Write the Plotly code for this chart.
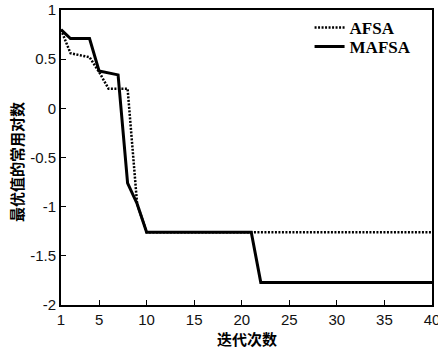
import plotly.graph_objects as go

iterations = list(range(1, 41))
afsa = [0.80, 0.56, 0.54, 0.52, 0.37, 0.20, 0.20, 0.20, -0.97] + [-1.26] * 31
mafsa = [0.80, 0.71, 0.71, 0.71, 0.38, 0.36, 0.34, -0.76, -0.97] + [-1.26] * 12 + [-1.77] * 19
x_ticks = [1, 5, 10, 15, 20, 25, 30, 35, 40]
y_ticks = [1, 0.5, 0, -0.5, -1, -1.5, -2]

fig = go.Figure()
fig.add_trace(go.Scatter(x=iterations, y=afsa, mode="lines", name="<b>AFSA</b>",
                         line=dict(color="black", width=2.5, dash="2px,1.5px"), legend="legend"))
fig.add_trace(go.Scatter(x=iterations, y=mafsa, mode="lines", name="<b>MAFSA</b>",
                         line=dict(color="black", width=3), legend="legend2"))

tick_font = dict(family="Liberation Sans, Arial", size=15, color="#111")
title_font = dict(family="Noto Sans CJK SC", size=15, color="black")
legend_font = dict(family="Liberation Serif, Times New Roman", size=17, color="black")
fig.update_layout(
    width=438, height=350,
    margin=dict(l=61, r=6, t=10, b=45),
    paper_bgcolor="white", plot_bgcolor="white",
    showlegend=True,
    legend=dict(x=0.67, y=0.939, xanchor="left", yanchor="middle", font=legend_font,
                bgcolor="rgba(0,0,0,0)", itemwidth=30),
    legend2=dict(x=0.67, y=0.875, xanchor="left", yanchor="middle", font=legend_font,
                 bgcolor="rgba(0,0,0,0)", itemwidth=30),
    xaxis=dict(range=[1, 40], tickvals=x_ticks, ticktext=[str(v) for v in x_ticks],
               ticks="inside", ticklen=5, tickcolor="black", showgrid=False, zeroline=False,
               showline=True, linecolor="black", linewidth=2, mirror=True,
               tickfont=tick_font, automargin=False, ticklabeloverflow="allow"),
    yaxis=dict(range=[-2, 1], tickvals=y_ticks, ticktext=[str(v) for v in y_ticks],
               ticks="inside", ticklen=5, tickcolor="black", showgrid=False, zeroline=False,
               showline=True, linecolor="black", linewidth=2, mirror=True,
               tickfont=tick_font, automargin=False, ticklabeloverflow="allow"),
    annotations=[
        dict(text="<b>迭代次数</b>", x=0.5, y=-0.112, xref="paper", yref="paper",
             xanchor="center", yanchor="middle", showarrow=False, font=title_font),
        dict(text="<b>最优值的常用对数</b>", x=-0.1186, y=0.485, xref="paper", yref="paper",
             xanchor="center", yanchor="middle", showarrow=False, textangle=-90, font=title_font),
    ],
)
fig.write_html("out.html", config={"displayModeBar": False},
               post_script="document.body.style.margin='0';document.body.style.overflow='hidden';")
